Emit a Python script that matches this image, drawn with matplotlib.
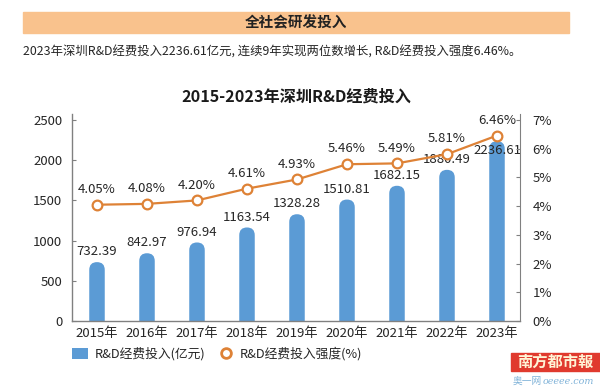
import matplotlib

matplotlib.use("Agg")
import matplotlib.pyplot as plt  # noqa: E402
from matplotlib.patches import FancyBboxPatch, Rectangle, Patch  # noqa: E402
from matplotlib.lines import Line2D  # noqa: E402

plt.rcParams["font.family"] = ["Noto Sans CJK SC", "DejaVu Sans"]

years = ["2015年", "2016年", "2017年", "2018年", "2019年",
         "2020年", "2021年", "2022年", "2023年"]
spend = [732.39, 842.97, 976.94, 1163.54, 1328.28,
         1510.81, 1682.15, 1880.49, 2236.61]
intensity = [4.05, 4.08, 4.20, 4.61, 4.93, 5.46, 5.49, 5.81, 6.46]
left_ticks = [0, 500, 1000, 1500, 2000, 2500]
right_ticks = [0, 1, 2, 3, 4, 5, 6, 7]

BLUE = "#5B9BD5"
ORANGE = "#DE8236"
TXT = "#262626"

fig = plt.figure(figsize=(6.0, 3.89), dpi=100)

# -- header band and lead text ---------------------------------------------
fig.patches.append(Rectangle((23 / 600, 1 - 33 / 389), 546 / 600, 21 / 389,
                             transform=fig.transFigure, color="#F9C28D",
                             zorder=0))
fig.text(296 / 600, 1 - 22.5 / 389, "全社会研发投入", ha="center", va="center",
         fontsize=10.5, fontweight="bold", color="#222222")
fig.text(23 / 600, 1 - 52 / 389,
         "2023年深圳R&D经费投入2236.61亿元, 连续9年实现两位数增长, "
         "R&D经费投入强度6.46%。",
         ha="left", va="center", fontsize=8.9, color=TXT)
fig.text(296 / 600, 1 - 97 / 389, "2015-2023年深圳R&D经费投入",
         ha="center", va="center", fontsize=11.6, fontweight="bold",
         color="#1a1a1a")

# -- axes --------------------------------------------------------------------
ax = fig.add_axes([72 / 600, 1 - 321 / 389, 448 / 600, 207 / 389])
ymax = 2575
ax.set_xlim(-0.5, 8.46)
ax.set_ylim(0, ymax)

# rounded-top bars: match corner radius in pixels on both axes
bw = 0.31
px_x = 448 / (8.46 + 0.5)
px_y = 207 / ymax
aspect = px_x / px_y
for i, v in enumerate(spend):
    bar = FancyBboxPatch((i - bw / 2, -400), bw, v + 400,
                         boxstyle=f"round,pad=0,rounding_size={bw / 2}",
                         mutation_aspect=aspect, facecolor=BLUE,
                         edgecolor="none", zorder=2)
    ax.add_patch(bar)
    if i == len(spend) - 1:
        ax.annotate(f"{v:.2f}", (i, v), xytext=(0, -7), textcoords="offset points",
                    ha="center", va="center", fontsize=9.5, color=TXT, zorder=5)
    else:
        ax.annotate(f"{v:.2f}", (i, v), xytext=(0, 7.5), textcoords="offset points",
                    ha="center", va="center", fontsize=9.5, color=TXT, zorder=5)

ax.set_xticks(range(len(years)))
ax.set_xticklabels(years, fontsize=9.5, color=TXT)
ax.set_yticks(left_ticks)
ax.set_yticklabels([str(t) for t in left_ticks], fontsize=9.5, color=TXT)
ax.tick_params(axis="x", length=0, pad=4)
ax.tick_params(axis="y", direction="in", length=3, color="#808080", pad=7)
for s in ("top", "right"):
    ax.spines[s].set_visible(False)
for s in ("left", "bottom"):
    ax.spines[s].set_color("#808080")
    ax.spines[s].set_linewidth(1.0)

ax2 = ax.twinx()
ax2.set_ylim(0, 7 * ymax / 2500)
ax2.plot(range(len(years)), intensity, color=ORANGE, lw=1.6, marker="o",
         markersize=7, markerfacecolor="white", markeredgecolor=ORANGE,
         markeredgewidth=1.6, zorder=4)
for i, v in enumerate(intensity):
    ax2.annotate(f"{v:.2f}%", (i, v), xytext=(0, 11), textcoords="offset points",
                 ha="center", va="center", fontsize=9.5, color=TXT)
ax2.set_yticks(right_ticks)
ax2.set_yticklabels([f"{t}%" for t in right_ticks], fontsize=9.5, color=TXT)
ax2.tick_params(axis="y", direction="in", length=3, color="#808080", pad=9)
for s in ("top", "left", "bottom"):
    ax2.spines[s].set_visible(False)
ax2.spines["right"].set_color("#808080")

# -- legend ------------------------------------------------------------------
handles = [
    Patch(facecolor=BLUE, edgecolor="none"),
    Line2D([], [], ls="none", marker="o", markersize=7, markerfacecolor="white",
           markeredgecolor=ORANGE, markeredgewidth=2),
]
fig.legend(handles, ["R&D经费投入(亿元)", "R&D经费投入强度(%)"],
           loc="center left", bbox_to_anchor=(72 / 600, 1 - 354 / 389),
           ncol=2, frameon=False, fontsize=9.2, handlelength=1.25,
           handleheight=0.9, handletextpad=0.5, columnspacing=1.0,
           borderpad=0, borderaxespad=0, labelcolor=TXT)

# -- masthead logo -------------------------------------------------------------
fig.patches.append(Rectangle((511 / 600, 1 - 371 / 389), 89 / 600, 18 / 389,
                             transform=fig.transFigure, color="#E03A2E",
                             zorder=0))
fig.text(555 / 600, 1 - 362 / 389, "南方都市報", ha="center", va="center",
         fontsize=11, fontweight="bold", color="#FFF4D6")
fig.text(513 / 600, 1 - 381 / 389, "奥一网", ha="left", va="center",
         fontsize=7, color="#7FB2D8")
fig.text(543 / 600, 1 - 381 / 389, "oeeee.com", ha="left", va="center",
         fontsize=6.8, style="italic", color="#7FB2D8", family="DejaVu Serif")

fig.savefig("out.png", dpi=100)
